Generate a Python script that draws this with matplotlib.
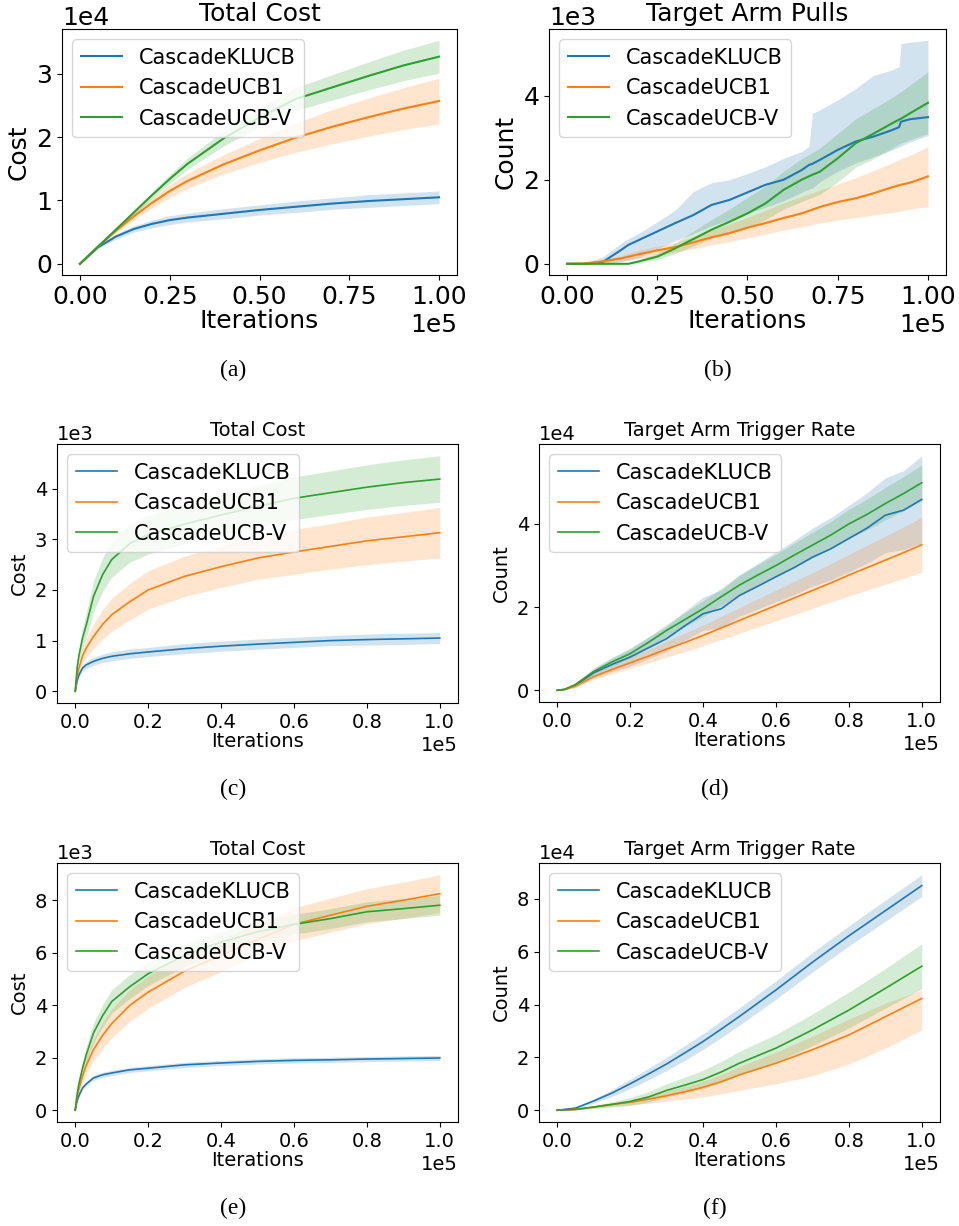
import numpy as np
import matplotlib
matplotlib.use("Agg")
import matplotlib.pyplot as plt

labels = ["CascadeKLUCB", "CascadeUCB1", "CascadeUCB-V"]
colors = ["tab:blue", "tab:orange", "tab:green"]

# (a) Total Cost, values in 1e4
x_a = [0, .05, .1, .15, .2, .25, .3, .4, .5, .6, .7, .8, .9, 1.0]
a_blue = [0, .26, .43, .55, .63, .69, .73, .79, .85, .9, .95, .99, 1.02, 1.05]
a_blue_sd = [0, .02, .04, .05, .06, .07, .07, .08, .08, .09, .09, .1, .1, .1]
a_orange = [0, .27, .52, .75, .96, 1.15, 1.31, 1.57, 1.79, 1.99, 2.16, 2.31, 2.45, 2.57]
a_orange_sd = [0, .01, .03, .06, .08, .1, .12, .15, .19, .23, .27, .3, .33, .36]
a_green = [0, .27, .54, .81, 1.08, 1.34, 1.58, 1.98, 2.31, 2.6, 2.78, 2.96, 3.13, 3.27]
a_green_sd = [0, .01, .02, .04, .05, .07, .09, .12, .15, .18, .2, .22, .24, .26]

# (b) Target Arm Pulls, values in 1e3
x_b = [0, .05, .1, .15, .17, .2, .25, .3, .35, .4, .45, .5, .55, .6, .65, .67, .68,
       .7, .75, .8, .85, .9, .92, .925, .95, 1.0]
b_blue = [0, 0, .05, .33, .45, .57, .77, .97, 1.16, 1.4, 1.52, 1.7, 1.88, 2.0, 2.23,
          2.35, 2.38, 2.47, 2.71, 2.91, 3.03, 3.18, 3.25, 3.38, 3.44, 3.49]
b_blue_hi = [0, .02, .17, .49, .6, .73, 1.0, 1.28, 1.72, 1.93, 2.0, 2.15, 2.31, 2.51, 2.67,
             2.79, 3.58, 3.66, 3.9, 4.17, 4.49, 4.61, 4.69, 5.24, 5.27, 5.32]
b_blue_lo = [0, 0, 0, .05, .08, .15, .35, .55, .72, .9, 1.05, 1.2, 1.35, 1.5, 1.7,
             1.78, 1.8, 1.95, 2.2, 2.4, 2.55, 2.7, 2.78, 2.8, 2.9, 3.05]
b_orange = [0, .01, .06, .13, .17, .23, .32, .4, .51, .63, .73, .86, .97, 1.09, 1.2,
            1.26, 1.29, 1.35, 1.47, 1.56, 1.68, 1.82, 1.87, 1.88, 1.93, 2.08]
b_orange_hi = [0, .02, .1, .2, .25, .33, .42, .5, .65, .8, .95, 1.1, 1.27, 1.45, 1.6,
               1.66, 1.69, 1.75, 1.9, 2.05, 2.22, 2.4, 2.48, 2.5, 2.58, 2.79]
b_orange_lo = [0, 0, .02, .07, .09, .12, .2, .28, .36, .45, .53, .62, .71, .8, .88,
               .91, .93, .97, 1.04, 1.1, 1.16, 1.22, 1.25, 1.26, 1.3, 1.36]
b_green = [0, 0, 0, 0, 0, .06, .17, .37, .59, .81, 1.0, 1.2, 1.44, 1.76, 2.0,
           2.08, 2.12, 2.19, 2.51, 2.87, 3.1, 3.34, 3.43, 3.45, 3.58, 3.83]
b_green_hi = [0, 0, 0, 0, 0, .1, .25, .5, .78, 1.05, 1.3, 1.58, 1.85, 2.2, 2.5,
              2.6, 2.65, 2.75, 3.1, 3.45, 3.7, 3.95, 4.07, 4.1, 4.25, 4.57]
b_green_lo = [0, 0, 0, 0, 0, .02, .1, .25, .42, .6, .72, .85, 1.05, 1.3, 1.48,
              1.55, 1.58, 1.65, 1.95, 2.3, 2.5, 2.75, 2.85, 2.87, 2.95, 3.1]

# (c) Total Cost, values in 1e3
x_c = [0, .005, .01, .02, .03, .05, .075, .1, .15, .2, .3, .4, .5, .6, .7, .8, .9, 1.0]
c_blue = [0, .2, .32, .46, .52, .59, .65, .69, .74, .775, .84, .89, .93, .965, 1.0, 1.02, 1.035, 1.05]
c_blue_sd = [0, .03, .05, .07, .07, .08, .08, .09, .09, .09, .1, .1, .1, .1, .1, .11, .11, .11]
c_orange = [0, .3, .45, .7, .85, 1.08, 1.32, 1.51, 1.77, 2.0, 2.27, 2.46, 2.63, 2.75, 2.86, 2.97, 3.05, 3.13]
c_orange_sd = [0, .05, .08, .14, .18, .24, .29, .33, .36, .38, .4, .41, .42, .44, .45, .47, .48, .5]
c_green = [0, .45, .7, 1.05, 1.3, 1.87, 2.3, 2.6, 2.92, 3.09, 3.3, 3.48, 3.65, 3.81, 3.92, 4.03, 4.12, 4.19]
c_green_sd = [0, .08, .12, .2, .25, .3, .33, .35, .37, .38, .39, .4, .41, .42, .43, .44, .45, .46]

# (d) Target Arm Trigger Rate, values in 1e4
x_d = [0, .02, .05, .1, .15, .2, .25, .3, .35, .4, .45, .5, .55, .6, .65, .7, .75, .8, .85, .9, .95, 1.0]
d_blue = [0, .02, .12, .42, .62, .8, 1.02, 1.24, 1.55, 1.84, 1.96, 2.28, 2.5, 2.73, 2.95,
          3.2, 3.4, 3.65, 3.9, 4.21, 4.33, 4.59]
d_blue_sd = [0, .01, .05, .12, .17, .22, .26, .3, .35, .4, .45, .5, .55, .6, .65, .7, .75,
             .8, .85, .9, .95, 1.05]
d_orange = [0, .02, .1, .33, .5, .66, .82, .99, 1.15, 1.32, 1.5, 1.68, 1.86, 2.04, 2.22,
            2.4, 2.58, 2.77, 2.95, 3.13, 3.31, 3.5]
d_orange_sd = [0, .01, .03, .07, .1, .13, .16, .19, .22, .25, .28, .31, .34, .37, .4, .43,
               .46, .5, .54, .58, .62, .66]
d_green = [0, .02, .14, .45, .68, .88, 1.15, 1.44, 1.7, 1.96, 2.25, 2.53, 2.77, 3.0, 3.25,
           3.49, 3.73, 4.0, 4.23, 4.49, 4.73, 4.99]
d_green_sd = [0, .01, .03, .06, .09, .11, .13, .15, .17, .19, .21, .23, .25, .27, .29, .31,
              .33, .35, .37, .39, .41, .43]

# (e) Total Cost, values in 1e3
x_e = x_c
e_blue = [0, .35, .55, .85, 1.0, 1.23, 1.35, 1.42, 1.54, 1.6, 1.73, 1.8, 1.86, 1.9, 1.92, 1.95, 1.97, 1.99]
e_blue_sd = [0, .03, .05, .07, .08, .09, .1, .1, .1, .1, .1, .1, .1, .1, .1, .1, .1, .1]
e_orange = [0, .5, .8, 1.3, 1.7, 2.3, 2.85, 3.3, 4.0, 4.5, 5.3, 5.9, 6.5, 7.08, 7.43, 7.77, 8.0, 8.25]
e_orange_sd = [0, .1, .15, .25, .32, .42, .5, .55, .6, .62, .62, .62, .62, .63, .65, .67, .69, .72]
e_green = [0, .6, 1.0, 1.6, 2.1, 2.94, 3.6, 4.14, 4.71, 5.2, 5.9, 6.4, 6.8, 7.08, 7.3, 7.56, 7.68, 7.81]
e_green_sd = [0, .1, .15, .25, .3, .38, .42, .45, .45, .45, .42, .4, .4, .38, .38, .38, .38, .38]

# (f) Target Arm Trigger Rate, values in 1e4
x_f = [0, .05, .1, .15, .2, .25, .3, .35, .4, .45, .5, .6, .7, .8, .9, 1.0]
f_blue = [0, .08, .35, .65, 1.0, 1.37, 1.75, 2.17, 2.6, 3.07, 3.55, 4.55, 5.6, 6.6, 7.55, 8.5]
f_blue_sd = [0, .03, .08, .13, .18, .22, .25, .28, .3, .32, .33, .35, .37, .38, .4, .41]
f_orange = [0, .03, .12, .22, .3, .42, .55, .7, .87, 1.08, 1.34, 1.78, 2.29, 2.85, 3.54, 4.23]
f_orange_lo = [0, .02, .08, .15, .2, .27, .35, .42, .5, .62, .75, 1.0, 1.3, 1.75, 2.35, 3.04]
f_orange_hi = [0, .04, .15, .28, .4, .55, .72, .9, 1.1, 1.35, 1.65, 2.2, 2.8, 3.45, 4.05, 4.55]
f_green = [0, .03, .12, .22, .33, .5, .75, .95, 1.16, 1.45, 1.78, 2.35, 3.04, 3.79, 4.61, 5.45]
f_green_sd = [0, .01, .05, .1, .15, .2, .25, .3, .35, .4, .45, .52, .6, .68, .75, .85]


def band(mean, sd):
    m = np.array(mean)
    s = np.array(sd)
    return m - s, m + s


W, H = 959, 1226
fig = plt.figure(figsize=(W / 100, H / 100), dpi=100)


def make_ax(l, t, r, b):
    return fig.add_axes([l / W, 1 - b / H, (r - l) / W, (b - t) / H])


def draw(ax, x, series, yscale, yticks, xticks, title, ylabel, fs, lw):
    xs = np.array(x) * 1e5
    for (mean, lo, hi), lab, col in zip(series, labels, colors):
        ax.plot(xs, np.array(mean) * yscale, color=col, lw=lw, label=lab)
        ax.fill_between(xs, np.array(lo) * yscale, np.array(hi) * yscale, color=col, alpha=0.2, lw=0)
    ax.set_xticks(np.array(xticks) * 1e5)
    ax.set_yticks(np.array(yticks) * yscale)
    ax.ticklabel_format(style="sci", scilimits=(0, 0), axis="both")
    ax.tick_params(labelsize=fs)
    ax.xaxis.get_offset_text().set_fontsize(fs)
    ax.yaxis.get_offset_text().set_fontsize(fs)
    ax.set_title(title, fontsize=fs)
    ax.set_xlabel("Iterations", fontsize=fs, labelpad=0)
    ax.set_ylabel(ylabel, fontsize=fs)
    ax.legend(loc="upper left", fontsize=15)


xt1 = [0, .25, .5, .75, 1.0]
xt2 = [0, .2, .4, .6, .8, 1.0]

ax = make_ax(62, 29, 457, 275)
draw(ax, x_a, [(a_blue, *band(a_blue, a_blue_sd)),
               (a_orange, *band(a_orange, a_orange_sd)),
               (a_green, *band(a_green, a_green_sd))],
     1e4, [0, 1, 2, 3], xt1, "Total Cost", "Cost", 18, 1.5)

ax = make_ax(549, 29, 946, 275)
draw(ax, x_b, [(b_blue, b_blue_lo, b_blue_hi),
               (b_orange, b_orange_lo, b_orange_hi),
               (b_green, b_green_lo, b_green_hi)],
     1e3, [0, 2, 4], xt1, "Target Arm Pulls", "Count", 18, 1.5)

ax = make_ax(57, 444, 458, 703)
draw(ax, x_c, [(c_blue, *band(c_blue, c_blue_sd)),
               (c_orange, *band(c_orange, c_orange_sd)),
               (c_green, *band(c_green, c_green_sd))],
     1e3, [0, 1, 2, 3, 4], xt2, "Total Cost", "Cost", 14, 1.2)

ax = make_ax(539, 444, 940, 702)
draw(ax, x_d, [(d_blue, *band(d_blue, d_blue_sd)),
               (d_orange, *band(d_orange, d_orange_sd)),
               (d_green, *band(d_green, d_green_sd))],
     1e4, [0, 2, 4], xt2, "Target Arm Trigger Rate", "Count", 14, 1.2)

ax = make_ax(57, 863, 458, 1122)
draw(ax, x_e, [(e_blue, *band(e_blue, e_blue_sd)),
               (e_orange, *band(e_orange, e_orange_sd)),
               (e_green, *band(e_green, e_green_sd))],
     1e3, [0, 2, 4, 6, 8], xt2, "Total Cost", "Cost", 14, 1.2)

ax = make_ax(539, 863, 940, 1122)
draw(ax, x_f, [(f_blue, *band(f_blue, f_blue_sd)),
               (f_orange, f_orange_lo, f_orange_hi),
               (f_green, *band(f_green, f_green_sd))],
     1e4, [0, 2, 4, 6, 8], xt2, "Target Arm Trigger Rate", "Count", 14, 1.2)

captions = [("(a)", 233, 370), ("(b)", 718, 370), ("(c)", 233, 789),
            ("(d)", 715, 789), ("(e)", 233, 1208), ("(f)", 715, 1208)]
for txt, cx, cy in captions:
    fig.text(cx / W, 1 - cy / H, txt, ha="center", va="center",
             fontsize=17, family="Liberation Serif")

fig.savefig("out.png", dpi=100)
